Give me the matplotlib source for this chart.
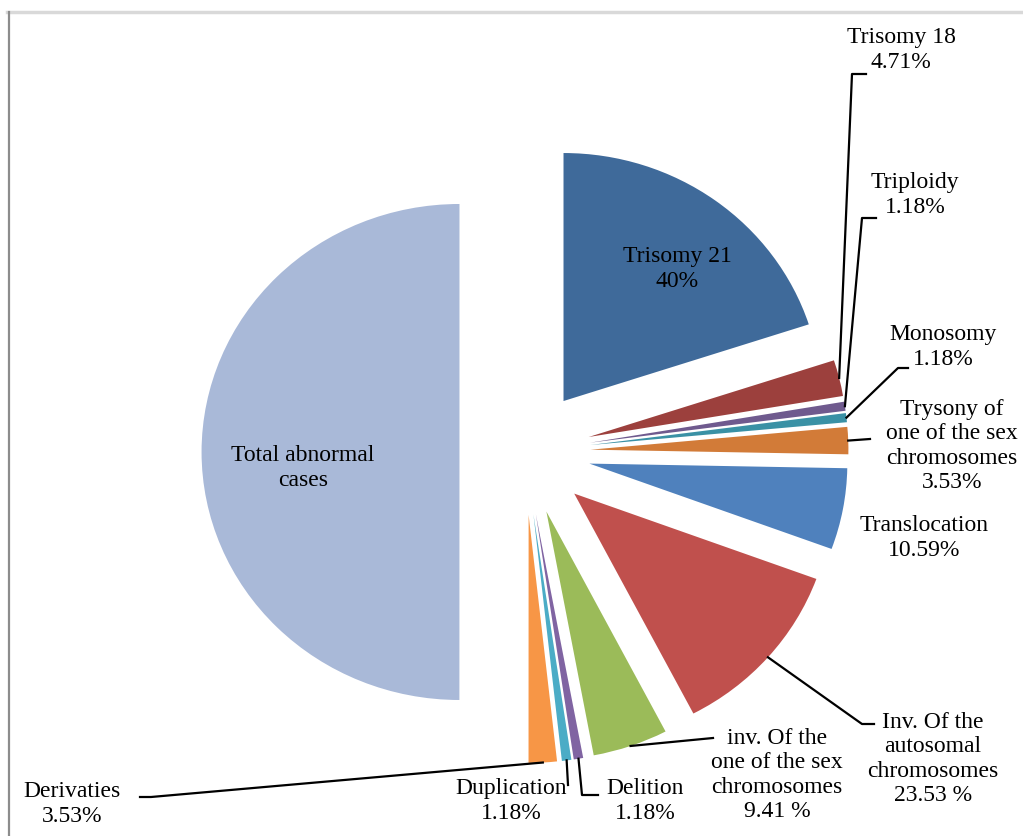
import numpy as np
import matplotlib.pyplot as plt

W, H = 1023, 836
SX = 1.04  # the original picture is a little wider than tall

categories = ['Trisomy 21', 'Trisomy 18', 'Triploidy', 'Monosomy',
              'Trysony of one of the sex chromosomes', 'Translocation',
              'Inv. Of the autosomal chromosomes',
              'inv. Of the one of the sex chromosomes',
              'Delition', 'Duplication', 'Derivaties', 'Total abnormal cases']
values = [40, 4.71, 1.18, 1.18, 3.53, 10.59, 23.53, 9.41, 1.18, 1.18, 3.53, 100]
labels = ['Trisomy 21\n40%', 'Trisomy 18\n4.71%', 'Triploidy\n1.18%', 'Monosomy\n1.18%',
          'Trysony of\none of the sex\nchromosomes\n3.53%', 'Translocation\n10.59%',
          'Inv. Of the\nautosomal\nchromosomes\n23.53 %',
          'inv. Of the\none of the sex\nchromosomes\n9.41 %',
          'Delition\n1.18%', 'Duplication\n1.18%', 'Derivaties\n3.53%',
          'Total abnormal\ncases']
colors = ['#3F6A9A', '#9C403D', '#6F5A8E', '#3A91A5', '#D27B38', '#4F81BD',
          '#C0504D', '#9BBB59', '#8064A2', '#4BACC6', '#F79646', '#A9B9D8']

# label centres and leader line bends, in pixels of the picture
label_pos = [(677, 269), (901, 50), (915, 195), (943, 347), (952, 446), (924, 538),
             (933, 759), (777, 775), (645, 801), (511, 801), (72, 804), (303, 468)]
leaders = {1: [(852, 74), (866, 74)],
           2: [(862, 218), (876, 218)],
           3: [(898, 368), (908, 368)],
           4: [(870, 439)],
           6: [(862, 724), (874, 724)],
           7: [(713, 738)],
           8: [(582, 795), (598, 795)],
           9: [(568, 785)],
           10: [(151, 797), (140, 797)]}


def P(x, y):
    return x / SX, H - y


fig = plt.figure(figsize=(W / 100, H / 100), dpi=100)
ax = fig.add_axes([0, 0, 1, 1])
wedges, _ = ax.pie(values, colors=colors, startangle=90, counterclock=False,
                   explode=[63] * len(values), center=P(525, 452), radius=248,
                   wedgeprops=dict(linewidth=0))
ax.set_aspect('auto')
ax.set_xlim(0, W / SX)
ax.set_ylim(0, H)
ax.axis('off')

for i, w in enumerate(wedges):
    tx, ty = P(*label_pos[i])
    ax.text(tx, ty, labels[i], ha='center', va='center', fontsize=17,
            family='Liberation Serif', linespacing=1.2, color='black')
    if i in leaders:
        mid = np.deg2rad((w.theta1 + w.theta2) / 2)
        ex = w.center[0] + w.r * np.cos(mid)
        ey = w.center[1] + w.r * np.sin(mid)
        pts = [(ex, ey)] + [P(*p) for p in leaders[i]]
        ax.plot([p[0] for p in pts], [p[1] for p in pts], color='black', lw=1.6)

# chart border remains
ax.plot([P(7, 12)[0], P(1023, 12)[0]], [P(7, 12)[1]] * 2, color='#D9D9D9', lw=2.5)
ax.plot([P(9, 12)[0]] * 2, [P(9, 12)[1], P(9, 836)[1]], color='#8C8C8C', lw=1.6)

fig.savefig('out.png', dpi=100)
